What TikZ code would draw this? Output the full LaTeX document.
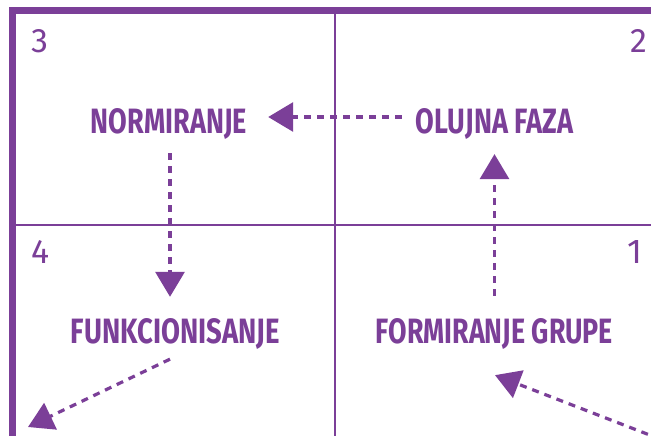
\documentclass[tikz,border=0pt]{standalone}
\usepackage{fontspec}
\setmainfont{Fira Sans}
\usetikzlibrary{arrows.meta,calc}
\definecolor{pur}{HTML}{7B3F98}
\begin{document}
\begin{tikzpicture}[x=1pt,y=-1pt,
  lab/.style={text=pur,inner sep=0pt,anchor=base,font=\bfseries},
  num/.style={text=pur,inner sep=0pt},
  flow/.style={pur,line width=3.2pt,dash pattern=on 7pt off 6pt,-{Triangle[length=25pt,width=29pt]}},
  gridline/.style={pur,line width=2pt}]
\useasboundingbox (0,0) rectangle (651,436);
\clip (0,0) rectangle (651,436);
\fill[white] (0,0) rectangle (651,436);
% frame and grid
\fill[pur] (9,7) rectangle (651,14);
\fill[pur] (9,7) rectangle (16,436);
\draw[gridline] (16,225) -- (651,225);
\draw[gridline] (335,14) -- (335,436);
% quadrant numbers
\node[num,anchor=base west] (n3) at (31,53) {\resizebox{!}{23pt}{3}};
\node[num,anchor=base east] (n2) at (647,53) {\resizebox{!}{23pt}{2}};
\node[num,anchor=base west] (n4) at (31,263) {\resizebox{!}{23pt}{4}};
\node[num,anchor=base east] (n1) at (643,263) {\resizebox{!}{23pt}{1}};
% labels
\node[lab] (norm) at (169,133) {\resizebox{156pt}{25pt}{NORMIRANJE}};
\node[lab] (olujna) at (494.5,133) {\resizebox{157pt}{25pt}{OLUJNA FAZA}};
\node[lab] (funk) at (175.5,343) {\resizebox{209pt}{25pt}{FUNKCIONISANJE}};
\node[lab] (form) at (494.5,343) {\resizebox{237pt}{25pt}{FORMIRANJE GRUPE}};
% free ends
\coordinate (out1) at (28,427);
\coordinate (in2) at (660,439);
% connectors
\draw[flow] ($(olujna.base west)+(-14,-16)$) -- ($(norm.base east)+(21,-16)$);
\draw[flow] ($(norm.south)+(1,14)$) -- ($(funk.north)+(-5.5,-21)$);
\draw[flow] ($(form.north)+(0,-22)$) -- ($(olujna.south)+(0,15)$);
\draw[flow] ($(funk.south)+(-5.5,10)$) -- (out1);
\draw[flow] (in2) -- ($(form.south)+(0.5,26)$);
\end{tikzpicture}
\end{document}
